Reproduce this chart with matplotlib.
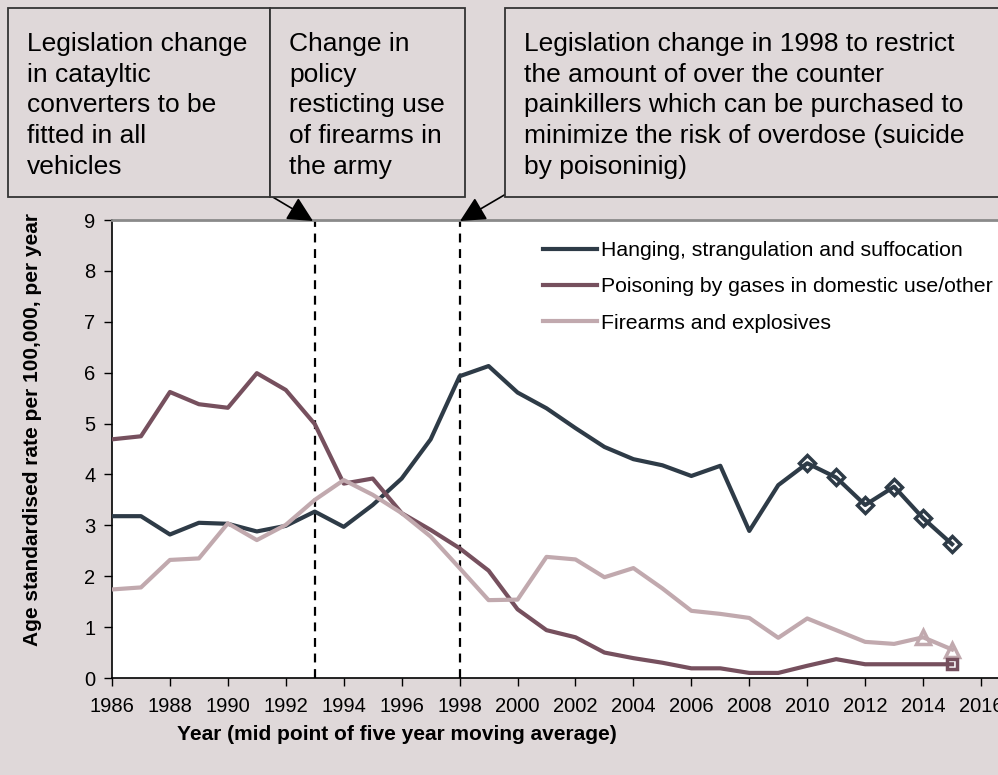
import matplotlib
matplotlib.use("Agg")
import matplotlib.pyplot as plt
from matplotlib.patches import Rectangle, FancyArrowPatch

plt.rcParams['font.family'] = ['Liberation Sans', 'DejaVu Sans']

years = list(range(1986, 2016))
hanging = [3.18, 3.18, 2.82, 3.05, 3.03, 2.88, 2.99, 3.27, 2.97, 3.40,
           3.92, 4.69, 5.93, 6.13, 5.61, 5.30, 4.91, 4.54, 4.30, 4.18,
           3.97, 4.17, 2.89, 3.79, 4.22, 3.94, 3.40, 3.76, 3.14, 2.63]
poisoning = [4.69, 4.75, 5.62, 5.38, 5.31, 5.99, 5.66, 4.99, 3.82, 3.92,
             3.24, 2.91, 2.55, 2.11, 1.35, 0.94, 0.80, 0.50, 0.39, 0.30,
             0.19, 0.19, 0.10, 0.10, 0.24, 0.37, 0.27, 0.27, 0.27, 0.27]
firearms = [1.74, 1.78, 2.32, 2.35, 3.04, 2.71, 3.01, 3.50, 3.89, 3.60,
            3.24, 2.78, 2.16, 1.53, 1.54, 2.38, 2.33, 1.98, 2.16, 1.76,
            1.32, 1.26, 1.18, 0.79, 1.17, 0.94, 0.71, 0.67, 0.80, 0.56]
labels = ["Hanging, strangulation and suffocation",
          "Poisoning by gases in domestic use/other",
          "Firearms and explosives"]
colors = ["#2e3b47", "#76505e", "#c1a9ae"]
events = [1993, 1998]
notes = ["Legislation change\nin catayltic\nconverters to be\nfitted in all\nvehicles",
         "Change in\npolicy\nresticting use\nof firearms in\nthe army",
         "Legislation change in 1998 to restrict\nthe amount of over the counter\n"
         "painkillers which can be purchased to\nminimize the risk of overdose (suicide\nby poisoninig)"]

W, H = 998, 775
bg = "#dfd8d9"


def fx(px):
    return px / W


def fy(py):
    return 1 - py / H


fig = plt.figure(figsize=(W / 100, H / 100), dpi=100, facecolor=bg)
ax = fig.add_axes([fx(112), fy(678), fx(1010) - fx(112), fy(220) - fy(678)])
ax.set_facecolor("white")

series = [hanging, poisoning, firearms]
for vals, lab, c in zip(series, labels, colors):
    ax.plot(years, vals, color=c, lw=3, label=lab, zorder=3)

# markers on the most recent points
ax.plot(years[-6:], hanging[-6:], ls="none", marker="D", ms=8, mfc="none",
        mec=colors[0], mew=2.5, zorder=4)
ax.plot(years[-2:], firearms[-2:], ls="none", marker="^", ms=10, mfc="none",
        mec=colors[2], mew=2.5, zorder=4)
ax.plot(years[-1:], poisoning[-1:], ls="none", marker="s", ms=7, mfc="none",
        mec=colors[1], mew=2.5, zorder=4)

for e in events:
    ax.axvline(e, color="black", ls=(0, (4, 3)), lw=1.6, zorder=2)

ax.set_xlim(1986, 2017)
ax.set_ylim(0, 9)
ax.set_xticks(range(1986, 2017, 2))
ax.set_yticks(range(0, 10))
ax.tick_params(labelsize=14.5, length=6, width=1, direction="out")
ax.tick_params(axis="x", pad=8)
ax.tick_params(axis="y", pad=6)
for s in ["left", "bottom"]:
    ax.spines[s].set_color("black")
    ax.spines[s].set_linewidth(1.2)
ax.spines["top"].set_color("#8a8a8a")
ax.spines["top"].set_linewidth(2)
ax.spines["right"].set_visible(False)

ax.legend(loc="upper left", bbox_to_anchor=(fx(543), fy(241)),
          bbox_transform=fig.transFigure, frameon=False, fontsize=15.3,
          handlelength=2.55, handletextpad=0.18, labelspacing=0.82,
          borderaxespad=0, borderpad=0)

fig.text(fx(33), fy(430), "Age standardised rate per 100,000, per year",
         rotation=90, ha="center", va="center", fontsize=15, fontweight="bold")
fig.text(fx(397), fy(734), "Year (mid point of five year moving average)",
         ha="center", va="center", fontsize=15, fontweight="bold")

# annotation boxes
boxes = [(8, 270), (270, 465), (505, 1003)]
for (x0, x1), txt in zip(boxes, notes):
    fig.patches.append(Rectangle((fx(x0), fy(197)), fx(x1) - fx(x0), fy(8) - fy(197),
                                 transform=fig.transFigure, facecolor=bg,
                                 edgecolor="#333333", lw=1.3, zorder=1))
    fig.text(fx(x0 + 19), fy(32), txt, ha="left", va="top", fontsize=19,
             linespacing=1.35, zorder=2)

for start, end in [((271, 196), (313, 221)), ((506, 194), (460, 221))]:
    fig.add_artist(FancyArrowPatch(
        (fx(start[0]), fy(start[1])), (fx(end[0]), fy(end[1])),
        transform=fig.transFigure, arrowstyle="-|>,head_length=12,head_width=6",
        color="black", lw=1.2, mutation_scale=1.3, shrinkA=0, shrinkB=0))

fig.savefig("out.png", dpi=100, facecolor=bg)
